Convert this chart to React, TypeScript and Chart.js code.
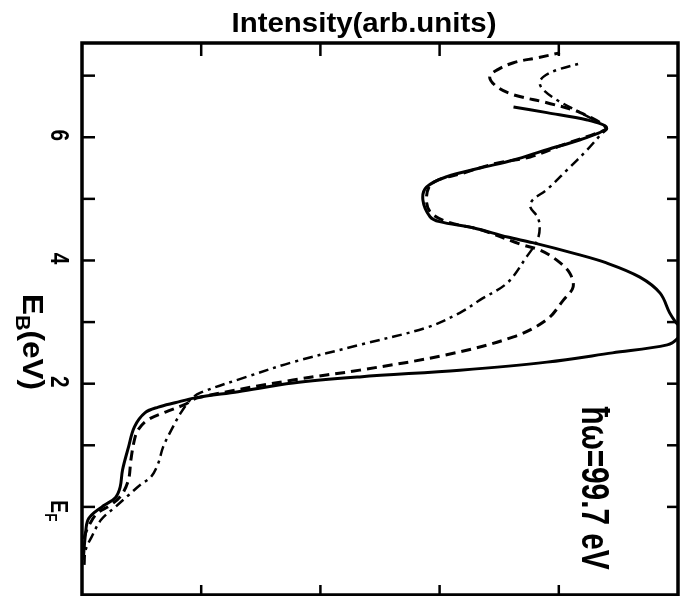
import React, { useEffect, useRef } from "react";
import { Chart, registerables } from "chart.js";

Chart.register(...registerables);

// ---- data (E_B in eV, intensity in arb. units) ----
const solidEnergy = [-0.86, -0.42, -0.21, -0.08, 0.03, 0.15, 0.32, 0.6, 0.97, 1.3, 1.53, 1.62, 1.69, 1.77, 1.87, 2.01, 2.11, 2.22, 2.35, 2.5, 2.63, 2.74, 2.88, 3.0, 3.15, 3.47, 3.73, 3.96, 4.12, 4.29, 4.38, 4.53, 4.63, 4.71, 4.98, 5.19, 5.36, 5.5, 5.63, 5.8, 5.96, 6.15, 6.28, 6.4, 6.49];
const solidIntensity = [0.01, 0.03, 0.05, 0.11, 0.19, 0.28, 0.32, 0.34, 0.39, 0.44, 0.53, 0.64, 0.78, 0.95, 1.31, 1.77, 2.33, 3.17, 3.9, 4.45, 4.91, 5.0, 5.03, 4.98, 4.93, 4.85, 4.68, 4.4, 4.12, 3.78, 3.57, 3.28, 3.0, 2.92, 2.86, 2.89, 3.06, 3.34, 3.62, 3.9, 4.18, 4.4, 4.24, 3.9, 3.62];

const dashedEnergy = [-0.78, -0.49, -0.26, -0.1, 0.03, 0.19, 0.44, 0.76, 1.09, 1.25, 1.41, 1.54, 1.66, 1.77, 2.06, 2.22, 2.47, 2.76, 3.04, 3.36, 3.57, 3.8, 4.01, 4.17, 4.25, 4.5, 4.63, 4.79, 5.03, 5.26, 5.42, 5.58, 5.68, 5.88, 6.07, 6.15, 6.4, 6.56, 6.69, 6.82, 6.98, 7.09, 7.21, 7.29, 7.37];
const dashedIntensity = [0.01, 0.02, 0.07, 0.13, 0.24, 0.33, 0.39, 0.41, 0.44, 0.47, 0.55, 0.7, 0.86, 0.97, 1.77, 2.33, 3.06, 3.62, 3.9, 4.04, 4.12, 4.09, 3.98, 3.84, 3.7, 3.34, 3.06, 2.92, 2.89, 2.94, 3.2, 3.48, 3.76, 4.04, 4.32, 4.4, 4.18, 3.9, 3.62, 3.48, 3.42, 3.48, 3.62, 3.82, 4.01];

const dashDotEnergy = [-0.94, -0.7, -0.49, -0.21, 0.0, 0.19, 0.36, 0.49, 0.71, 0.97, 1.25, 1.53, 1.74, 1.85, 2.11, 2.35, 2.63, 2.91, 3.15, 3.36, 3.64, 4.06, 4.33, 4.55, 4.71, 4.87, 4.98, 5.15, 5.47, 5.8, 6.04, 6.15, 6.4, 6.61, 6.77, 6.88, 6.98, 7.09, 7.21];
const dashDotIntensity = [0.02, 0.03, 0.08, 0.16, 0.28, 0.39, 0.49, 0.58, 0.64, 0.68, 0.75, 0.83, 0.91, 0.99, 1.38, 1.77, 2.33, 2.89, 3.17, 3.34, 3.57, 3.73, 3.82, 3.84, 3.82, 3.76, 3.78, 3.9, 4.07, 4.24, 4.35, 4.4, 4.18, 3.98, 3.87, 3.84, 3.87, 3.98, 4.2];

const energyTicks = [0, 1, 2, 3, 4, 5, 6, 7];
const intensityTicks = [1, 2, 3, 4];
const energyLabelValues = [2, 4, 6];
const energyLabelTexts = ["2", "4", "6"];
const fermiLabelValue = 0;

const titleText = "Intensity(arb.units)";
const axisLabelMain = "E";
const axisLabelSub = "B";
const axisLabelUnit = "(eV)";
const photonText = "ħω=99.7 eV";

const FONT = "'Liberation Sans', Arial, sans-serif";

type Seg = { text: string; size: number; dy: number };

function drawRotated(ctx: CanvasRenderingContext2D, segs: Seg[], cx: number, cy: number, baseShift: number, lenScale: number) {
  ctx.save();
  ctx.translate(cx, cy);
  ctx.rotate(Math.PI / 2);
  const widths = segs.map((s) => {
    ctx.font = `bold ${s.size}px ${FONT}`;
    return ctx.measureText(s.text).width;
  });
  const total = widths.reduce((a, b) => a + b, 0);
  ctx.scale(lenScale, 1);
  let xx = -total / 2;
  ctx.textAlign = "left";
  ctx.textBaseline = "alphabetic";
  segs.forEach((s, i) => {
    ctx.font = `bold ${s.size}px ${FONT}`;
    ctx.fillText(s.text, xx, baseShift + s.dy);
    xx += widths[i];
  });
  ctx.restore();
}

function drawRotatedFit(ctx: CanvasRenderingContext2D, segs: Seg[], cx: number, cy: number, baseShift: number, targetLen: number) {
  let total = 0;
  ctx.save();
  segs.forEach((s) => {
    ctx.font = `bold ${s.size}px ${FONT}`;
    total += ctx.measureText(s.text).width;
  });
  ctx.restore();
  drawRotated(ctx, segs, cx, cy, baseShift, targetLen / total);
}

const decorPlugin = {
  id: "decor",
  afterDatasetsDraw(chart: any) {
    const { ctx, chartArea: a, scales } = chart;
    const x = scales.x;
    const y = scales.y;
    ctx.save();
    ctx.strokeStyle = "#000";
    ctx.fillStyle = "#000";
    ctx.lineWidth = 3.5;
    ctx.strokeRect(a.left, a.top, a.right - a.left, a.bottom - a.top);
    ctx.lineWidth = 2.5;
    const seg = (x1: number, y1: number, x2: number, y2: number) => {
      ctx.beginPath();
      ctx.moveTo(x1, y1);
      ctx.lineTo(x2, y2);
      ctx.stroke();
    };
    for (const v of energyTicks) {
      const py = y.getPixelForValue(v);
      seg(a.left, py, a.left + 13, py);
      seg(a.right, py, a.right - 11, py);
    }
    for (const v of intensityTicks) {
      const px = x.getPixelForValue(v);
      seg(px, a.top, px, a.top + 13);
      seg(px, a.bottom, px, a.bottom - 10);
    }

    // title
    ctx.save();
    ctx.font = `bold 28px ${FONT}`;
    const tw = ctx.measureText(titleText).width;
    ctx.translate(364, 32);
    ctx.scale(265 / tw, 1);
    ctx.textAlign = "center";
    ctx.textBaseline = "alphabetic";
    ctx.fillText(titleText, 0, 0);
    ctx.restore();

    // energy tick labels (rotated)
    energyLabelValues.forEach((v, i) => {
      const py = y.getPixelForValue(v);
      drawRotated(ctx, [{ text: energyLabelTexts[i], size: 26, dy: 0 }], 60, py - 2, 9.5, 0.8);
    });
    const pf = y.getPixelForValue(fermiLabelValue);
    drawRotated(ctx, [
      { text: "E", size: 24, dy: 0 },
      { text: "F", size: 17, dy: 6 },
    ], 60, pf + 4, 9, 0.8);

    // axis label
    drawRotatedFit(ctx, [
      { text: axisLabelMain, size: 29, dy: 0 },
      { text: axisLabelSub, size: 20, dy: 7 },
      { text: axisLabelUnit, size: 29, dy: 0 },
    ], 34, 342, 11, 96);

    // photon energy annotation
    drawRotatedFit(ctx, [{ text: photonText, size: 38, dy: 0 }], 596, 488, 14, 163);

    ctx.restore();
  },
};

export default function App() {
  const ref = useRef<HTMLCanvasElement | null>(null);
  useEffect(() => {
    if (!ref.current) return;
    const mk = (es: number[], is: number[]) => es.map((e, i) => ({ x: is[i], y: e }));
    const chart = new Chart(ref.current, {
      type: "scatter",
      data: {
        datasets: [
          {
            label: "solid",
            data: mk(solidEnergy, solidIntensity),
            showLine: true,
            borderColor: "#000",
            borderWidth: 3,
            pointRadius: 0,
            tension: 0.35,
          },
          {
            label: "dashed",
            data: mk(dashedEnergy, dashedIntensity),
            showLine: true,
            borderColor: "#000",
            borderWidth: 3,
            borderDash: [10, 6],
            pointRadius: 0,
            tension: 0.35,
          },
          {
            label: "dash-dot",
            data: mk(dashDotEnergy, dashDotIntensity),
            showLine: true,
            borderColor: "#000",
            borderWidth: 2.5,
            borderDash: [10, 5, 3, 5],
            pointRadius: 0,
            tension: 0.35,
          },
        ],
      },
      options: {
        responsive: false,
        animation: false,
        layout: { padding: { left: 82, top: 43, right: 4, bottom: 1 } },
        plugins: { legend: { display: false }, tooltip: { enabled: false }, title: { display: false } },
        scales: {
          x: { type: "linear", min: 0, max: 5, display: false },
          y: { type: "linear", min: -1.43, max: 7.53, display: false },
        },
      },
      plugins: [decorPlugin],
    });
    return () => chart.destroy();
  }, []);
  return (
    <canvas
      ref={ref}
      width={682}
      height={596}
      style={{ position: "fixed", left: 0, top: 0, width: 682, height: 596, background: "#fff" }}
    />
  );
}
